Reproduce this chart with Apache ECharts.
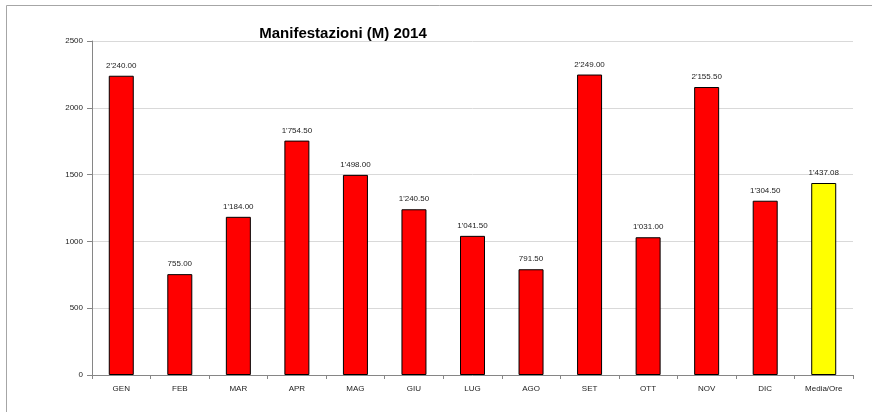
<!DOCTYPE html>
<html><head><meta charset="utf-8">
<script src="https://cdn.jsdelivr.net/npm/echarts@6/dist/echarts.min.js"></script>
<style>html,body{margin:0;padding:0;background:#fff}#c{width:872px;height:417px}</style>
</head><body><div id="c"></div>
<script>
var categories = ['GEN','FEB','MAR','APR','MAG','GIU','LUG','AGO','SET','OTT','NOV','DIC','Media/Ore'];
var values = [2240, 755, 1184, 1754.5, 1498, 1240.5, 1041.5, 791.5, 2249, 1031, 2155.5, 1304.5, 1437.08];
var yTicks = [0, 500, 1000, 1500, 2000, 2500];
var title = 'Manifestazioni (M) 2014';

function fmt(v){
  var s = v.toFixed(2);
  var parts = s.split('.');
  var ip = parts[0].replace(/\B(?=(\d{3})+(?!\d))/g, "'");
  return ip + '.' + parts[1];
}
var chart = echarts.init(document.getElementById('c'), null, {renderer:'canvas'});
var font = 'Liberation Sans, Arial, sans-serif';
chart.setOption({
  animation:false,
  title:{text:title, left:338, top:21, textAlign:'center',
    textStyle:{fontFamily:font, fontSize:15, fontWeight:'bold', color:'#000'}},
  graphic:[
    {type:'line', shape:{x1:6.5,y1:5.5,x2:872,y2:5.5}, style:{stroke:'#a6a6a6', lineWidth:1}},
    {type:'line', shape:{x1:6.5,y1:5.5,x2:6.5,y2:412}, style:{stroke:'#a6a6a6', lineWidth:1}}
  ],
  grid:{left:92, right:19, top:41, bottom:42},
  xAxis:{type:'category', data:categories,
    axisLine:{lineStyle:{color:'#868686'}},
    axisTick:{show:true, length:4, lineStyle:{color:'#868686'}},
    axisLabel:{fontFamily:font, fontSize:8, color:'#222', margin:10}},
  yAxis:{type:'value', min:yTicks[0], max:yTicks[yTicks.length-1], interval:500,
    axisLine:{show:true, lineStyle:{color:'#868686'}},
    axisTick:{show:true, length:5, lineStyle:{color:'#868686'}},
    axisLabel:{fontFamily:font, fontSize:8, color:'#222', margin:9,
      formatter:function(v){return String(v);}},
    splitLine:{lineStyle:{color:'#d9d9d9'}}},
  series:[{type:'bar', barWidth:25,
    data:values.map(function(v,i){return {value:v, itemStyle:{color: i===values.length-1?'#ffff00':'#ff0000'}};}),
    itemStyle:{borderColor:'#000', borderWidth:1},
    label:{show:true, position:'top', distance:6, fontFamily:font, fontSize:8, color:'#222',
      formatter:function(p){return fmt(p.value);}}}]
});
</script></body></html>
